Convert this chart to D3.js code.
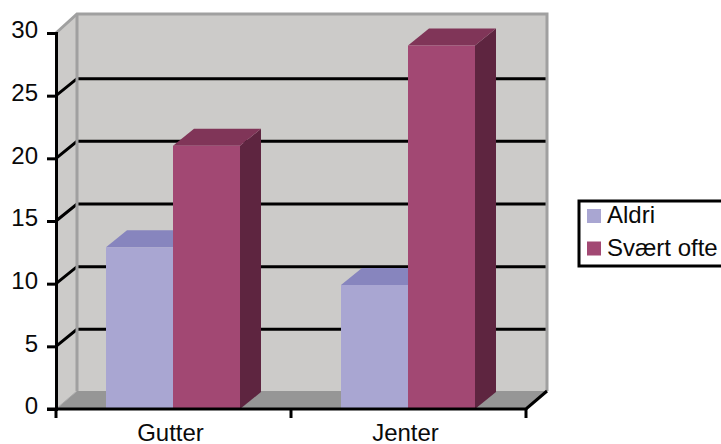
<!DOCTYPE html>
<html>
<head>
<meta charset="utf-8">
<script src="https://cdnjs.cloudflare.com/ajax/libs/d3/7.8.5/d3.min.js"></script>
<style>
html,body{margin:0;padding:0;background:#fff;overflow:hidden}
svg{display:block}
text{font-family:"Liberation Sans",Arial,sans-serif;font-size:24px;fill:#0a0a0a}
</style>
</head>
<body>
<svg id="chart" width="721" height="444"></svg>
<script>
const categories = ["Gutter", "Jenter"];
const seriesNames = ["Aldri", "Svært ofte"];
const aldri = [12.9, 9.9];
const svaertOfte = [21, 29];
const yTicks = [0, 5, 10, 15, 20, 25, 30];

const palette = {
  "Aldri": {front: "#a9a6d2", top: "#8785be", side: "#5f5d92"},
  "Svært ofte": {front: "#a24873", top: "#803558", side: "#5e2540"}
};

const svg = d3.select("#chart");
const depthX = 21, depthY = -18, gridDepthY = -17, barDepthY = -17;

const x = d3.scaleBand().domain(categories).range([56, 526]);
const inner = d3.scaleBand().domain(seriesNames).range([50, 184]);
const y = d3.scaleLinear().domain([0, 30]).range([409, 33]);

const poly = (pts, fill, stroke) => svg.append("polygon")
  .attr("points", pts.map(p => p.join(",")).join(" "))
  .attr("fill", fill).attr("stroke", stroke || "none");

const x0 = x.range()[0], x1 = x.range()[1];
const y0 = y(0), yTop = y(30);

// Walls and floor of the 3D plot box
poly([[x0, y0], [x0 + depthX, y0 + depthY], [x0 + depthX, yTop + depthY - 1], [x0, yTop]], "#cccbc9");
poly([[x0 + depthX, y0 + depthY], [x1 + depthX, y0 + depthY], [x1 + depthX, yTop + depthY - 1], [x0 + depthX, yTop + depthY - 1]], "#cccbc9");
poly([[x0, y0], [x0 + depthX, y0 + depthY], [x1 + depthX, y0 + depthY], [x1, y0]], "#969696");

// Gridlines wrap from the side wall onto the back wall
svg.append("g").selectAll("path")
  .data(yTicks.filter(t => t > 0 && t < 30))
  .join("path")
  .attr("d", t => d3.line()([[x0, y(t)], [x0 + depthX, y(t) + gridDepthY], [x1 + depthX - 1, y(t) + gridDepthY]]))
  .attr("fill", "none").attr("stroke", "#000").attr("stroke-width", 3);

// Wall outline
const wallEdge = d3.line();
svg.append("path")
  .attr("d", wallEdge([[x0, yTop], [x0 + depthX, yTop + depthY - 1], [x1 + depthX, yTop + depthY - 1], [x1 + depthX, y0 + depthY]]))
  .attr("fill", "none").attr("stroke", "#a0a0a0").attr("stroke-width", 3);
svg.append("path")
  .attr("d", wallEdge([[x0 + depthX, yTop + depthY - 1], [x0 + depthX, y0 + depthY]]))
  .attr("fill", "none").attr("stroke", "#a0a0a0").attr("stroke-width", 3);
svg.append("path")
  .attr("d", wallEdge([[x0, y0], [x0 + depthX, y0 + depthY]]))
  .attr("fill", "none").attr("stroke", "#a8a8a8").attr("stroke-width", 1);

// Columns, each one a front, top and side face
const seriesValues = {"Aldri": aldri, "Svært ofte": svaertOfte};
const bars = categories.flatMap((c, i) => seriesNames.map(s => ({c, s, v: seriesValues[s][i]})));
const barGroup = svg.append("g").selectAll("g").data(bars).join("g");
barGroup.each(function (d) {
  const g = d3.select(this);
  const l = x(d.c) + inner(d.s), r = l + inner.bandwidth();
  const t = y(d.v), b = y(0);
  const face = (pts, fill) => g.append("polygon")
    .attr("points", pts.map(p => p.join(",")).join(" ")).attr("fill", fill);
  face([[r, b], [r + depthX, b + barDepthY], [r + depthX, t + barDepthY], [r, t]], palette[d.s].side);
  face([[l, t], [l + depthX, t + barDepthY], [r + depthX, t + barDepthY], [r, t]], palette[d.s].top);
  face([[l, b], [r, b], [r, t], [l, t]], palette[d.s].front);
});

// Value axis
const yAxis = svg.append("g").attr("transform", `translate(${x0},0)`)
  .call(d3.axisLeft(y).tickValues(yTicks).tickSize(9).tickPadding(9));
yAxis.selectAll("line").attr("stroke", "#000").attr("stroke-width", 3);
yAxis.select(".domain").attr("stroke", "#000").attr("stroke-width", 3);
yAxis.selectAll("text").attr("dy", "0.2em").style("font-size", "24px").style("fill", "#0a0a0a")
  .style("font-family", '"Liberation Sans",Arial,sans-serif');

// Category axis: ticks sit on the band edges, labels at the band centres
const xAxis = svg.append("g").attr("transform", `translate(0,${y0})`);
xAxis.append("path")
  .attr("d", d3.line()([[x0 - 9, 0], [x1, 0], [x1 + depthX, depthY]]))
  .attr("fill", "none").attr("stroke", "#000").attr("stroke-width", 3);
xAxis.selectAll("line")
  .data([x0, x(categories[1]), x1])
  .join("line")
  .attr("x1", d => d).attr("x2", d => d).attr("y1", 0).attr("y2", 9)
  .attr("stroke", "#000").attr("stroke-width", 3);
xAxis.selectAll("text")
  .data(categories)
  .join("text")
  .attr("x", d => x(d) + x.bandwidth() / 2 - 3)
  .attr("y", 32)
  .attr("text-anchor", "middle")
  .text(d => d);

// Legend
const legend = svg.append("g");
legend.append("rect")
  .attr("x", 579).attr("y", 201).attr("width", 150).attr("height", 65)
  .attr("fill", "#fff").attr("stroke", "#000").attr("stroke-width", 3);
const rowY = d3.scalePoint().domain(seriesNames).range([216, 248.5]);
legend.selectAll("rect.key").data(seriesNames).join("rect")
  .attr("class", "key")
  .attr("x", 587).attr("y", d => rowY(d) - 7).attr("width", 14).attr("height", 14)
  .attr("fill", d => palette[d].front);
legend.selectAll("text").data(seriesNames).join("text")
  .attr("x", 607).attr("y", d => rowY(d) + 7)
  .text(d => d);
</script>
</body>
</html>
